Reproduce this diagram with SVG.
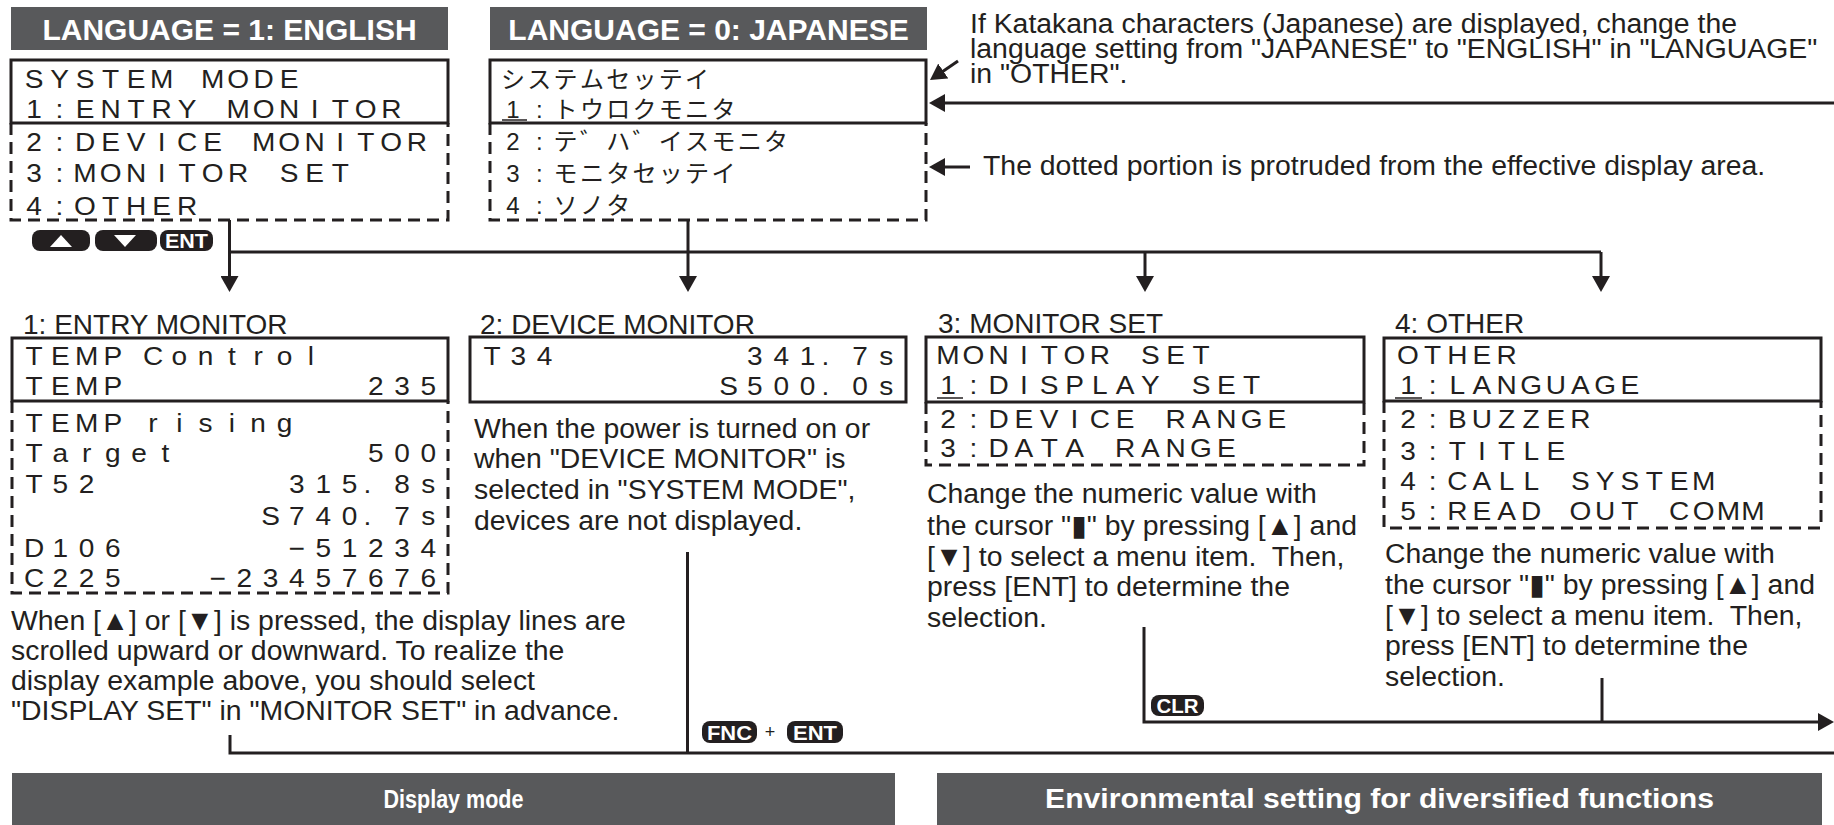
<svg xmlns="http://www.w3.org/2000/svg" width="1834" height="825" viewBox="0 0 1834 825">
<style>
text{font-family:"Liberation Sans",Arial,"DejaVu Sans",sans-serif;fill:#231f20}
.p{font-size:28.4px;white-space:pre}
.ttl{font-size:28px}
.lcd{font-size:25.5px;text-anchor:middle}
.jp{font-family:"Liberation Sans","Noto Sans CJK JP",sans-serif;font-size:24px;text-anchor:middle}
.ban{fill:#58595b}
.bt{font-weight:bold;fill:#fff;text-anchor:middle}
.solid{fill:none;stroke:#231f20;stroke-width:3}
.dash{fill:none;stroke:#231f20;stroke-width:3;stroke-dasharray:12 7}
.ln{fill:none;stroke:#231f20;stroke-width:3}
.ul{stroke:#231f20;stroke-width:1.5}
.key{fill:#231f20}
.kt{font-weight:bold;fill:#fff;text-anchor:middle;font-size:20px}
.tri{fill:#fff}
</style>
<defs>
<marker id="ah" markerUnits="userSpaceOnUse" markerWidth="16" markerHeight="18" refX="6" refY="9" orient="auto"><path d="M0,0L16,9L0,18z" fill="#231f20"/></marker>
</defs>
<rect x="0" y="0" width="1834" height="825" fill="#fff"/>

<g id="banner-english">
<rect class="ban" x="11" y="7" width="437" height="43"/>
<text class="bt" x="229.5" y="40" font-size="30">LANGUAGE = 1: ENGLISH</text>
</g>
<g id="banner-japanese">
<rect class="ban" x="490" y="7" width="437" height="43"/>
<text class="bt" x="708.5" y="40" font-size="30">LANGUAGE = 0: JAPANESE</text>
</g>

<g id="system-mode-english">
<rect class="solid" x="11" y="60" width="437" height="63"/>
<path class="dash" d="M11 123V220H448V123"/>
<g transform="translate(34 0) scale(1.1 1)">
<text class="lcd" x="0 23.2 46.4 69.6 92.8 116 139.2 162.4 185.6 208.8 232 255.2 278.4 301.6 324.8 348" y="88">SYSTEM MODE</text>
<text class="lcd" x="0 23.2 46.4 69.6 92.8 116 139.2 162.4 185.6 208.8 232 255.2 278.4 301.6 324.8 348" y="118">1:ENTRY MONITOR</text>
<text class="lcd" x="0 23.2 46.4 69.6 92.8 116 139.2 162.4 185.6 208.8 232 255.2 278.4 301.6 324.8 348" y="151">2:DEVICE MONITOR</text>
<text class="lcd" x="0 23.2 46.4 69.6 92.8 116 139.2 162.4 185.6 208.8 232 255.2 278.4 301.6 324.8 348" y="182">3:MONITOR SET</text>
<text class="lcd" x="0 23.2 46.4 69.6 92.8 116 139.2 162.4 185.6 208.8 232 255.2 278.4 301.6 324.8 348" y="215">4:OTHER</text>
</g>
</g>

<g id="keys-up-down-ent">
<rect class="key" x="32" y="230" width="58" height="21" rx="8"/>
<polygon class="tri" points="50,247 72,247 61,235"/>
<rect class="key" x="95" y="230" width="62" height="21" rx="8"/>
<polygon class="tri" points="114,235 136,235 125,247"/>
<rect class="key" x="160" y="230" width="53" height="21" rx="8"/>
<text class="kt" x="186.5" y="247.5" textLength="43" lengthAdjust="spacingAndGlyphs">ENT</text>
</g>

<g id="system-mode-japanese">
<rect class="solid" x="490" y="60" width="436" height="63"/>
<path class="dash" d="M490 123V220H926V123"/>
<text class="jp" x="513 539.3 565.6 591.9 618.2 644.5 670.8 697.1 723.4 749.7 776" y="88">システムセッテイ</text>
<text class="jp" x="513 539.3 565.6 591.9 618.2 644.5 670.8 697.1 723.4 749.7 776" y="118">1:トウロクモニタ</text>
<line class="ul" x1="502" y1="120" x2="527" y2="120"/>
<text class="jp" x="513 539.3 565.6 591.9 618.2 644.5 670.8 697.1 723.4 749.7 776" y="150">2:テ゛ハ゛イスモニタ</text>
<text class="jp" x="513 539.3 565.6 591.9 618.2 644.5 670.8 697.1 723.4 749.7 776" y="182">3:モニタセッテイ</text>
<text class="jp" x="513 539.3 565.6 591.9 618.2 644.5 670.8 697.1 723.4 749.7 776" y="214">4:ソノタ</text>
</g>

<g id="note-katakana">
<text class="p" x="970" y="33">If Katakana characters (Japanese) are displayed, change the</text>
<text class="p" x="970" y="58">language setting from "JAPANESE" to "ENGLISH" in "LANGUAGE"</text>
<text class="p" x="970" y="83">in "OTHER".</text>
</g>
<g id="note-dotted">
<text class="p" x="983" y="175">The dotted portion is protruded from the effective display area.</text>
</g>

<g id="entry-monitor">
<text class="ttl" x="23" y="334">1: ENTRY MONITOR</text>
<rect class="solid" x="12" y="338" width="436" height="63"/>
<path class="dash" d="M12 401V593H448V401"/>
<g transform="translate(34 0) scale(1.1 1)">
<text class="lcd" x="0 23.9 47.8 71.7 90 108.2 132.1 156 179.9 203.8 227.7 251.6" y="365">TEMP Control</text>
<text class="lcd" x="0 23.9 47.8 71.7" y="395">TEMP</text>
<text class="lcd" x="310.7 334.6 358.5" y="395">235</text>
<text class="lcd" x="0 23.9 47.8 71.7 90 108.2 132.1 156 179.9 203.8 227.7" y="432">TEMP rising</text>
<text class="lcd" x="0 23.9 47.8 71.7 95.6 119.5" y="462">Target</text>
<text class="lcd" x="310.7 334.6 358.5" y="462">500</text>
<text class="lcd" x="0 23.9 47.8" y="493">T52</text>
<text class="lcd" x="239 262.9 286.8 303 318 334.6 358.5" y="493">315. 8s</text>
<text class="lcd" x="215.1 239 262.9 286.8 303 318 334.6 358.5" y="525">S740. 7s</text>
<text class="lcd" x="0 23.9 47.8 71.7" y="557">D106</text>
<text class="lcd" x="239 262.9 286.8 310.7 334.6 358.5" y="557">−51234</text>
<text class="lcd" x="0 23.9 47.8 71.7" y="587">C225</text>
<text class="lcd" x="167.3 191.2 215.1 239 262.9 286.8 310.7 334.6 358.5" y="587">−23457676</text>
</g>
<text class="p" x="11" y="630">When [▲] or [▼] is pressed, the display lines are</text>
<text class="p" x="11" y="660">scrolled upward or downward. To realize the</text>
<text class="p" x="11" y="690">display example above, you should select</text>
<text class="p" x="11" y="720">"DISPLAY SET" in "MONITOR SET" in advance.</text>
</g>

<g id="device-monitor">
<text class="ttl" x="480" y="334">2: DEVICE MONITOR</text>
<rect class="solid" x="470" y="337" width="436" height="65"/>
<g transform="translate(492 0) scale(1.1 1)">
<text class="lcd" x="0 23.9 47.8" y="365">T34</text>
<text class="lcd" x="239 262.9 286.8 303 318 334.6 358.5" y="365">341. 7s</text>
<text class="lcd" x="215.1 239 262.9 286.8 303 318 334.6 358.5" y="395">S500. 0s</text>
</g>
<text class="p" x="474" y="438">When the power is turned on or</text>
<text class="p" x="474" y="468">when "DEVICE MONITOR" is</text>
<text class="p" x="474" y="499">selected in "SYSTEM MODE",</text>
<text class="p" x="474" y="530">devices are not displayed.</text>
</g>

<g id="monitor-set">
<text class="ttl" x="938" y="333">3: MONITOR SET</text>
<rect class="solid" x="926" y="337" width="438" height="65"/>
<path class="dash" d="M926 402V465H1364V402"/>
<g transform="translate(948 0) scale(1.1 1)">
<text class="lcd" x="0 23 46 69 92 115 138 161 184 207 230 253 276 299 322 345" y="364">MONITOR SET</text>
<text class="lcd" x="0 23 46 69 92 115 138 161 184 207 230 253 276 299 322 345" y="394">1:DISPLAY SET</text>
<text class="lcd" x="0 23 46 69 92 115 138 161 184 207 230 253 276 299 322 345" y="428">2:DEVICE RANGE</text>
<text class="lcd" x="0 23 46 69 92 115 138 161 184 207 230 253 276 299 322 345" y="457">3:DATA RANGE</text>
</g>
<line class="ul" x1="937" y1="398" x2="963" y2="398"/>
<text class="p" x="927" y="503">Change the numeric value with</text>
<text class="p" x="927" y="535">the cursor "▮" by pressing [▲] and</text>
<text class="p" x="927" y="566">[▼] to select a menu item.  Then,</text>
<text class="p" x="927" y="596">press [ENT] to determine the</text>
<text class="p" x="927" y="627">selection.</text>
</g>

<g id="other">
<text class="ttl" x="1395" y="333">4: OTHER</text>
<rect class="solid" x="1384" y="338" width="437" height="63"/>
<path class="dash" d="M1384 401V528H1821V401"/>
<g transform="translate(1408 0) scale(1.1 1)">
<text class="lcd" x="0 22.4 44.8 67.2 89.6 112 134.4 156.8 179.2 201.6 224 246.4 268.8 291.2 313.6 336" y="364">OTHER</text>
<text class="lcd" x="0 22.4 44.8 67.2 89.6 112 134.4 156.8 179.2 201.6 224 246.4 268.8 291.2 313.6 336" y="394">1:LANGUAGE</text>
<text class="lcd" x="0 22.4 44.8 67.2 89.6 112 134.4 156.8 179.2 201.6 224 246.4 268.8 291.2 313.6 336" y="428">2:BUZZER</text>
<text class="lcd" x="0 22.4 44.8 67.2 89.6 112 134.4 156.8 179.2 201.6 224 246.4 268.8 291.2 313.6 336" y="460">3:TITLE</text>
<text class="lcd" x="0 22.4 44.8 67.2 89.6 112 134.4 156.8 179.2 201.6 224 246.4 268.8 291.2 313.6 336" y="490">4:CALL SYSTEM</text>
<text class="lcd" x="0 22.4 44.8 67.2 89.6 112 134.4 156.8 179.2 201.6 224 246.4 268.8 291.2 313.6 336" y="520">5:READ OUT COMM</text>
</g>
<line class="ul" x1="1395" y1="398" x2="1422" y2="398"/>
<text class="p" x="1385" y="563">Change the numeric value with</text>
<text class="p" x="1385" y="594">the cursor "▮" by pressing [▲] and</text>
<text class="p" x="1385" y="625">[▼] to select a menu item.  Then,</text>
<text class="p" x="1385" y="655">press [ENT] to determine the</text>
<text class="p" x="1385" y="686">selection.</text>
</g>

<g id="keys-fnc-ent">
<rect class="key" x="702" y="721" width="55" height="22" rx="8"/>
<text class="kt" x="729.5" y="739.5" textLength="45" lengthAdjust="spacingAndGlyphs">FNC</text>
<text x="770" y="738" font-size="18" text-anchor="middle">+</text>
<rect class="key" x="787" y="721" width="56" height="22" rx="8"/>
<text class="kt" x="815" y="739.5" textLength="44" lengthAdjust="spacingAndGlyphs">ENT</text>
</g>

<g id="key-clr">
<rect class="key" x="1151" y="695" width="53" height="21" rx="8"/>
<text class="kt" x="1177.5" y="712.5" textLength="42" lengthAdjust="spacingAndGlyphs">CLR</text>
</g>

<g id="banner-display-mode">
<rect class="ban" x="12" y="773" width="883" height="52"/>
<text class="bt" x="453.5" y="808" font-size="26" textLength="140" lengthAdjust="spacingAndGlyphs">Display mode</text>
</g>
<g id="banner-environmental">
<rect class="ban" x="937" y="773" width="885" height="52"/>
<text class="bt" x="1379.5" y="808" font-size="27" textLength="669" lengthAdjust="spacingAndGlyphs">Environmental setting for diversified functions</text>
</g>

<g id="connectors">
<path class="ln" d="M229.5 220V282" marker-end="url(#ah)"/>
<path class="ln" d="M229.5 252H1601"/>
<path class="ln" d="M688 220V282" marker-end="url(#ah)"/>
<path class="ln" d="M1145 252V282" marker-end="url(#ah)"/>
<path class="ln" d="M1601 252V282" marker-end="url(#ah)"/>
<path class="ln" d="M1834 103H939" marker-end="url(#ah)"/>
<path class="ln" d="M970 167H939" marker-end="url(#ah)"/>
<path class="ln" d="M958 61L938.3 74.4" marker-end="url(#ah)"/>
<path class="ln" d="M1144 627V722H1824" marker-end="url(#ah)"/>
<path class="ln" d="M1602 678V722"/>
<path class="ln" d="M230 735V753H1834"/>
<path class="ln" d="M687.5 552V753"/>
</g>
</svg>
